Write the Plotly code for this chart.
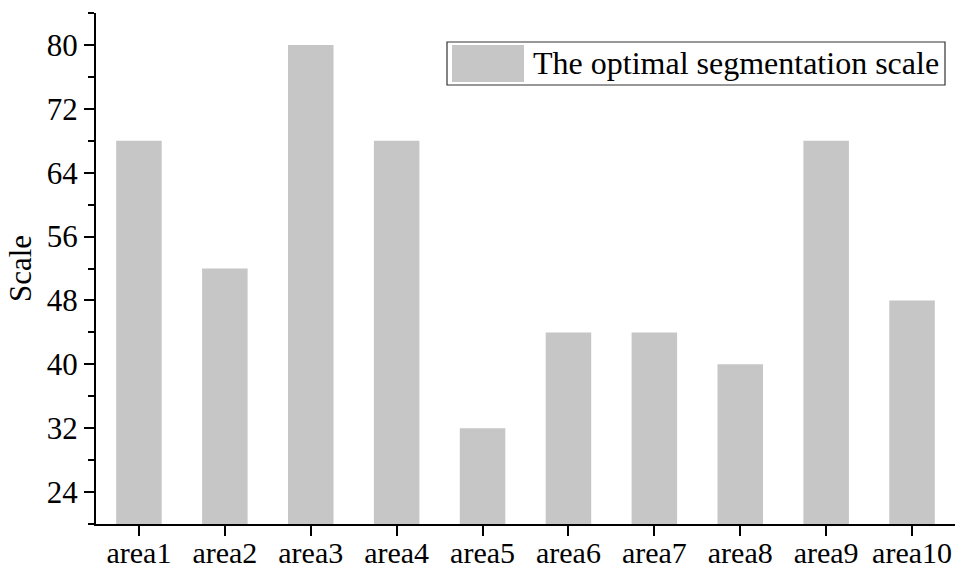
import plotly.graph_objects as go

# Optimal segmentation scale per study area
areas = ["area1", "area2", "area3", "area4", "area5",
         "area6", "area7", "area8", "area9", "area10"]
scales = [68, 52, 80, 68, 32, 44, 44, 40, 68, 48]
series_name = "The optimal segmentation scale"
y_tick_values = [24, 32, 40, 48, 56, 64, 72, 80]

FONT = "Liberation Serif, Times New Roman, serif"
BAR = "#c6c6c6"

fig = go.Figure()
fig.add_trace(go.Bar(x=areas, y=scales, name=series_name,
                     marker=dict(color=BAR, line=dict(width=0)),
                     showlegend=False))

W, H = 956, 568
L, R, T, B = 96, 1, 13, 44
pw, ph = W - L - R, H - T - B

def px(x):
    return (x - L) / pw

def py(y):
    return (H - B - y) / ph

# Legend box with a wide swatch
fig.add_shape(type="rect", xref="paper", yref="paper",
              x0=px(447), x1=px(945), y0=py(85), y1=py(42),
              line=dict(color="#333333", width=1.2), fillcolor="white")
fig.add_shape(type="rect", xref="paper", yref="paper",
              x0=px(452), x1=px(524), y0=py(82), y1=py(45),
              line=dict(width=0), fillcolor=BAR)
fig.add_annotation(xref="paper", yref="paper", x=px(531), y=py(63.5),
                   text=series_name, showarrow=False, xanchor="left",
                   yanchor="middle", font=dict(family=FONT, size=32, color="black"))

fig.update_layout(
    width=W, height=H,
    margin=dict(l=L, r=R, t=T, b=B, pad=0),
    plot_bgcolor="white", paper_bgcolor="white",
    bargap=0.47,
    font=dict(family=FONT, color="black"),
)
fig.update_xaxes(
    range=[-0.5, 9.5], showline=True, linecolor="black", linewidth=2,
    ticks="outside", ticklen=10, tickwidth=2, tickcolor="black",
    tickfont=dict(family=FONT, size=30), showgrid=False, zeroline=False,
    automargin=False, ticklabelstandoff=-9,
)
fig.update_yaxes(
    range=[20, 84], showline=True, linecolor="black", linewidth=2,
    tickvals=y_tick_values, ticks="outside", ticklen=10, tickwidth=2,
    tickcolor="black", tickfont=dict(family=FONT, size=31),
    minor=dict(dtick=4, tick0=0, ticks="outside", ticklen=6, tickwidth=2,
               tickcolor="black", showgrid=False),
    showgrid=False, zeroline=False, automargin=False,
    title=dict(text="Scale", font=dict(family=FONT, size=31), standoff=6),
)

fig.write_html("out.html")
